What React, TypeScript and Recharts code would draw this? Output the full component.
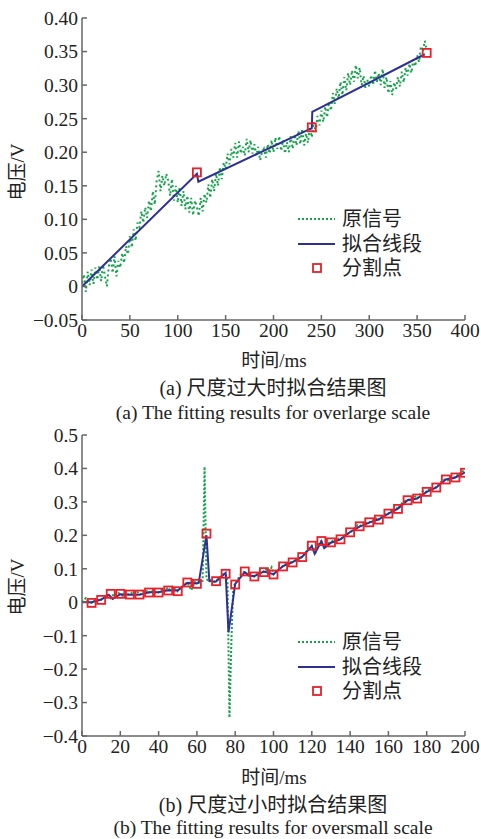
import { ComposedChart, Line, Scatter, XAxis, YAxis } from 'recharts'

const GREEN = '#14a24a'
const BLUE = '#2e3192'
const RED = '#e8202a'
const AXIS = '#666'
const SERIF = '"Liberation Serif", "Noto Sans CJK SC", serif'

// ---- (a) overlarge scale ----
const stepA = 2 // ms between samples of the original signal
const originalA = [
  0.005, 0.018, -0.008, 0.022, 0.002,
  0.025, 0.004, 0.028, 0.010, 0.030,
  0.008, 0.032, 0.015, 0.000, 0.030,
  0.042, 0.020, 0.045, 0.015, 0.038,
  0.028, 0.050, 0.035, 0.060, 0.048,
  0.075, 0.058, 0.085, 0.068, 0.095,
  0.088, 0.112, 0.095, 0.118, 0.102,
  0.128, 0.112, 0.142, 0.122, 0.158,
  0.172, 0.142, 0.165, 0.150, 0.168,
  0.158, 0.135, 0.160, 0.128, 0.150,
  0.125, 0.148, 0.120, 0.142, 0.115,
  0.135, 0.110, 0.132, 0.106, 0.128,
  0.118, 0.105, 0.132, 0.112, 0.138,
  0.125, 0.152, 0.132, 0.160, 0.142,
  0.168, 0.150, 0.178, 0.160, 0.185,
  0.175, 0.198, 0.182, 0.205, 0.192,
  0.214, 0.192, 0.216, 0.198, 0.208,
  0.195, 0.220, 0.200, 0.218, 0.198,
  0.212, 0.195, 0.208, 0.188, 0.200,
  0.205, 0.192, 0.212, 0.198, 0.218,
  0.200, 0.222, 0.205, 0.224, 0.202,
  0.218, 0.198, 0.215, 0.200, 0.224,
  0.205, 0.226, 0.210, 0.232, 0.212,
  0.235, 0.210, 0.228, 0.214, 0.238,
  0.222, 0.245, 0.230, 0.254, 0.240,
  0.262, 0.245, 0.268, 0.252, 0.275,
  0.262, 0.288, 0.272, 0.295, 0.280,
  0.305, 0.285, 0.312, 0.292, 0.318,
  0.300, 0.322, 0.305, 0.330, 0.310,
  0.326, 0.300, 0.314, 0.296, 0.308,
  0.298, 0.315, 0.300, 0.322, 0.305,
  0.318, 0.300, 0.324, 0.296, 0.312,
  0.288, 0.306, 0.285, 0.304, 0.294,
  0.312, 0.298, 0.320, 0.304, 0.326,
  0.314, 0.332, 0.318, 0.338, 0.328,
  0.345, 0.334, 0.358, 0.350, 0.366,
  0.352,
]
const fitTimeA = [0, 120, 121.5, 240, 240.5, 358]
const fitValueA = [0.0, 0.168, 0.156, 0.236, 0.26, 0.346]
const splitTimeA = [120, 240, 360]
const splitValueA = [0.17, 0.237, 0.348]
const xTicksA = [0, 50, 100, 150, 200, 250, 300, 350, 400]
const yTicksA = [-0.05, 0, 0.05, 0.1, 0.15, 0.2, 0.25, 0.3, 0.35, 0.4]

// ---- (b) oversmall scale ----
const stepB = 1
const originalB = [
  0.000, 0.008, 0.012, 0.004, 0.000, -0.002, 0.003, 0.006, 0.004, 0.009,
  0.007, 0.012, 0.016, 0.022, 0.018, 0.012, 0.020, 0.026, 0.022, 0.027,
  0.025, 0.020, 0.026, 0.030, 0.024, 0.023, 0.028, 0.032, 0.026, 0.030,
  0.023, 0.026, 0.031, 0.027, 0.034, 0.029, 0.036, 0.032, 0.028, 0.033,
  0.029, 0.034, 0.040, 0.036, 0.044, 0.035, 0.040, 0.046, 0.038, 0.042,
  0.033, 0.040, 0.046, 0.050, 0.055, 0.059, 0.050, 0.036, 0.048, 0.060,
  0.055, 0.058, 0.062, 0.064, 0.405, 0.070, 0.064, 0.066, 0.062, 0.060,
  0.063, 0.070, 0.074, 0.080, 0.084, 0.085, 0.060, -0.345, -0.120, 0.050,
  0.053, 0.066, 0.075, 0.084, 0.088, 0.092, 0.086, 0.082, 0.084, 0.080,
  0.077, 0.082, 0.086, 0.090, 0.094, 0.090, 0.096, 0.100, 0.094, 0.104,
  0.083, 0.090, 0.096, 0.102, 0.106, 0.107, 0.112, 0.118, 0.114, 0.120,
  0.119, 0.124, 0.128, 0.126, 0.132, 0.135, 0.142, 0.150, 0.158, 0.164,
  0.169, 0.160, 0.150, 0.166, 0.176, 0.183, 0.172, 0.166, 0.174, 0.178,
  0.179, 0.184, 0.180, 0.186, 0.190, 0.188, 0.194, 0.200, 0.204, 0.206,
  0.209, 0.214, 0.220, 0.224, 0.230, 0.227, 0.232, 0.238, 0.234, 0.240,
  0.239, 0.244, 0.242, 0.248, 0.252, 0.247, 0.254, 0.260, 0.262, 0.266,
  0.265, 0.272, 0.278, 0.276, 0.284, 0.279, 0.288, 0.296, 0.300, 0.304,
  0.305, 0.308, 0.312, 0.310, 0.316, 0.310, 0.318, 0.326, 0.332, 0.334,
  0.330, 0.336, 0.340, 0.338, 0.344, 0.343, 0.350, 0.358, 0.362, 0.366,
  0.367, 0.364, 0.370, 0.376, 0.374, 0.373, 0.380, 0.386, 0.384, 0.392,
  0.387,
]
const fitTimeB = [
  0, 5, 10, 14, 16, 20, 25, 30, 35, 40, 45, 50, 55, 60, 61, 65, 66.5, 70, 75,
  76.5, 80, 85, 87, 90, 95, 100, 105, 110, 115, 120, 121.5, 125, 126.5, 130,
  135, 140, 145, 150, 155, 160, 165, 170, 175, 180, 185, 190, 195, 200,
]
const fitValueB = [
  0.0, 0.0, 0.008, 0.022, 0.01, 0.024, 0.022, 0.022, 0.03, 0.03, 0.036, 0.035,
  0.058, 0.056, 0.06, 0.2, 0.063, 0.062, 0.088, -0.09, 0.055, 0.09, 0.08,
  0.078, 0.092, 0.084, 0.108, 0.12, 0.136, 0.168, 0.145, 0.182, 0.162, 0.178,
  0.188, 0.21, 0.226, 0.238, 0.248, 0.265, 0.28, 0.305, 0.31, 0.33, 0.343,
  0.367, 0.373, 0.388,
]
const splitTimeB = [
  5, 10, 15, 20, 25, 30, 35, 40, 45, 50, 55, 60, 65, 70, 75, 80, 85, 90, 95, 100,
  105, 110, 115, 120, 125, 130, 135, 140, 145, 150, 155, 160, 165, 170, 175, 180,
  185, 190, 195, 200,
]
const splitValueB = [
  -0.002, 0.007, 0.025, 0.025, 0.023, 0.023, 0.029, 0.029, 0.035, 0.033,
  0.059, 0.055, 0.205, 0.063, 0.085, 0.053, 0.092, 0.077, 0.09, 0.083,
  0.107, 0.119, 0.135, 0.169, 0.183, 0.179, 0.188, 0.209, 0.227, 0.239,
  0.247, 0.265, 0.279, 0.305, 0.31, 0.33, 0.343, 0.367, 0.373, 0.387,
]
const xTicksB = [0, 20, 40, 60, 80, 100, 120, 140, 160, 180, 200]
const yTicksB = [-0.4, -0.3, -0.2, -0.1, 0, 0.1, 0.2, 0.3, 0.4, 0.5]

const legendNames = ['原信号', '拟合线段', '分割点']

const toRows = (times: number[], values: number[]) =>
  values.map((v, i) => ({ t: times[i], v }))
const sampled = (values: number[], step: number) =>
  values.map((v, i) => ({ t: i * step, v }))

const fmt = (digits: number) => (v: number) =>
  Math.abs(v) < 1e-9 ? '0' : (v < 0 ? '\u2212' : '') + Math.abs(v).toFixed(digits)

const tickStyle = { fill: '#222', fontSize: 19.5, fontFamily: SERIF }

const square = (props: any) => (
  <rect
    x={props.cx - 4}
    y={props.cy - 4}
    width={8}
    height={8}
    fill="none"
    stroke={RED}
    strokeWidth={1.8}
  />
)

interface PanelProps {
  original: { t: number; v: number }[]
  fit: { t: number; v: number }[]
  split: { t: number; v: number }[]
  xMax: number
  xTicks: number[]
  yDomain: [number, number]
  yTicks: number[]
  yFormat: (v: number) => string
  height: number
  marginTop: number
  marginBottom: number
  dash: string
}

function FitPanel(p: PanelProps) {
  return (
    <ComposedChart
      width={481}
      height={p.height}
      margin={{ top: p.marginTop, right: 16, bottom: p.marginBottom, left: 12 }}
    >
      <XAxis
        xAxisId="b"
        type="number"
        dataKey="t"
        domain={[0, p.xMax]}
        ticks={p.xTicks}
        allowDataOverflow
        height={30}
        stroke={AXIS}
        strokeWidth={1.5}
        tickSize={-5}
        tickMargin={8}
        tick={tickStyle}
      />
      <XAxis
        xAxisId="top"
        orientation="top"
        type="number"
        domain={[0, p.xMax]}
        height={0}
        tick={false}
        tickLine={false}
        stroke={AXIS}
        strokeWidth={1.5}
      />
      <YAxis
        yAxisId="l"
        type="number"
        dataKey="v"
        domain={p.yDomain}
        ticks={p.yTicks}
        allowDataOverflow
        width={70}
        stroke={AXIS}
        strokeWidth={1.5}
        tickSize={-5}
        tickMargin={9}
        tickFormatter={p.yFormat}
        tick={tickStyle}
      />
      <YAxis
        yAxisId="r"
        orientation="right"
        type="number"
        domain={p.yDomain}
        width={0}
        tick={false}
        tickLine={false}
        stroke={AXIS}
        strokeWidth={1.5}
      />
      <Line
        xAxisId="b"
        yAxisId="l"
        data={p.original}
        dataKey="v"
        type="linear"
        stroke={GREEN}
        strokeWidth={2}
        strokeDasharray={p.dash}
        dot={false}
        isAnimationActive={false}
      />
      <Line
        xAxisId="b"
        yAxisId="l"
        data={p.fit}
        dataKey="v"
        type="linear"
        stroke={BLUE}
        strokeWidth={2}
        dot={false}
        isAnimationActive={false}
      />
      <Scatter
        xAxisId="b"
        yAxisId="l"
        data={p.split}
        dataKey="v"
        shape={square}
        isAnimationActive={false}
      />
    </ComposedChart>
  )
}

function Text({ x, y, size, children, rotate }: any) {
  return (
    <div
      style={{
        position: 'absolute',
        left: x,
        top: y,
        transform: `translate(-50%, -50%)${rotate ? ' rotate(-90deg)' : ''}`,
        whiteSpace: 'nowrap',
        fontFamily: SERIF,
        fontSize: size,
        color: '#222',
        lineHeight: 1,
      }}
    >
      {children}
    </div>
  )
}

function LegendBox({ top }: { top: number }) {
  const row = (i: number, sample: any) => (
    <div
      key={i}
      style={{
        position: 'absolute',
        left: 0,
        top: i * 24.5,
        width: 160,
        height: 24,
        display: 'flex',
        alignItems: 'center',
        whiteSpace: 'nowrap',
      }}
    >
      <svg width={40} height={24} style={{ flex: 'none' }}>{sample}</svg>
      <span style={{ fontFamily: SERIF, fontSize: 20, color: '#222', marginLeft: 4, lineHeight: 1 }}>
        {legendNames[i]}
      </span>
    </div>
  )
  return (
    <div style={{ position: 'absolute', left: 298, top, width: 160 }}>
      {row(0, <line x1={0} x2={37} y1={12} y2={12} stroke={GREEN} strokeWidth={2} strokeDasharray="2 2" />)}
      {row(1, <line x1={0} x2={37} y1={12} y2={12} stroke={BLUE} strokeWidth={2} />)}
      {row(2, <rect x={15} y={8} width={8} height={8} fill="none" stroke={RED} strokeWidth={1.8} />)}
    </div>
  )
}

export default function App() {
  return (
    <div style={{ position: 'absolute', left: 0, top: 0, width: 481, height: 839, background: '#fff', overflow: 'hidden' }}>
      <div style={{ position: 'absolute', left: 0, top: 0 }}>
        <FitPanel
          original={sampled(originalA, stepA)}
          fit={toRows(fitTimeA, fitValueA)}
          split={toRows(splitTimeA, splitValueA)}
          xMax={400}
          xTicks={xTicksA}
          yDomain={[-0.05, 0.4]}
          yTicks={yTicksA}
          yFormat={fmt(2)}
          height={420}
          marginTop={18}
          marginBottom={70}
          dash="2 3"
        />
      </div>
      <div style={{ position: 'absolute', left: 0, top: 420 }}>
        <FitPanel
          original={sampled(originalB, stepB)}
          fit={toRows(fitTimeB, fitValueB)}
          split={toRows(splitTimeB, splitValueB)}
          xMax={200}
          xTicks={xTicksB}
          yDomain={[-0.4, 0.5]}
          yTicks={yTicksB}
          yFormat={fmt(1)}
          height={419}
          marginTop={15}
          marginBottom={73}
          dash="2 2"
        />
      </div>

      <LegendBox top={207} />
      <LegendBox top={630} />

      <Text x={17} y={172} size={19} rotate>电压/V</Text>
      <Text x={274} y={360} size={19}>时间/ms</Text>
      <Text x={273} y={388} size={20}>(a) 尺度过大时拟合结果图</Text>
      <Text x={273} y={413} size={19.5}>(a) The fitting results for overlarge scale</Text>

      <Text x={17} y={587} size={19} rotate>电压/V</Text>
      <Text x={274} y={777} size={19}>时间/ms</Text>
      <Text x={273} y={805} size={20}>(b) 尺度过小时拟合结果图</Text>
      <Text x={273} y={828} size={19.5}>(b) The fitting results for oversmall scale</Text>
    </div>
  )
}
